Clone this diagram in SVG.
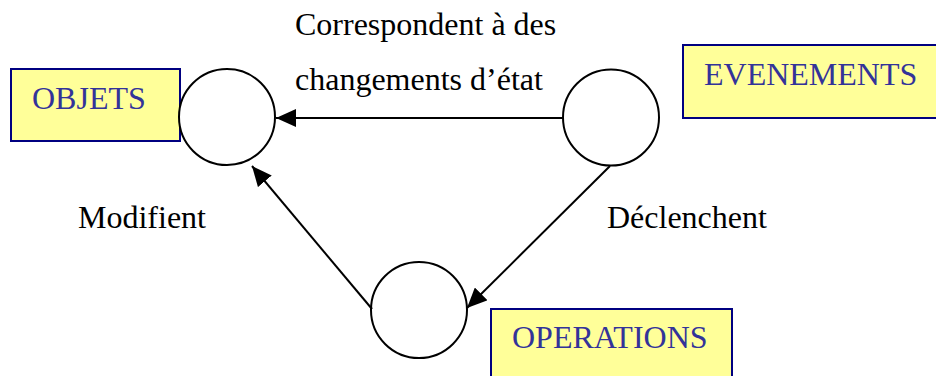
<svg xmlns="http://www.w3.org/2000/svg" width="936" height="376" viewBox="0 0 936 376">
<style>
.box{fill:#FFFF99;stroke:#000080;stroke-width:2}
.btxt{font-size:32px;fill:#333399}
.circ{fill:#FFFFFF;stroke:#000000;stroke-width:2}
.lbl{font-size:32px;fill:#000000}
.conn{stroke:#000000;stroke-width:2;fill:none;marker-end:url(#arr)}
</style>
<defs>
<marker id="arr" markerUnits="userSpaceOnUse" markerWidth="20" markerHeight="18" refX="20" refY="9" orient="auto" viewBox="0 0 20 18">
<path d="M0,0 L20,9 L0,18 z" fill="#000000"/>
</marker>
</defs>
<rect width="936" height="376" fill="#FFFFFF"/>
<g font-family="'Liberation Serif', 'DejaVu Serif', 'Times New Roman', serif">
<g id="objets">
<rect class="box" x="11" y="69" width="169" height="72"/>
<text class="btxt" x="32" y="109">OBJETS</text>
<circle class="circ" cx="227" cy="117" r="48"/>
</g>
<g id="evenements">
<rect class="box" x="683" y="45" width="262" height="73"/>
<text class="btxt" x="704" y="85">EVENEMENTS</text>
<circle class="circ" cx="611" cy="117.5" r="48"/>
</g>
<g id="operations">
<rect class="box" x="491" y="309" width="241" height="80"/>
<text class="btxt" x="512" y="348">OPERATIONS</text>
<circle class="circ" cx="419" cy="310" r="48"/>
</g>
<g id="connectors">
<line class="conn" x1="563" y1="118" x2="276" y2="118"/>
<line class="conn" x1="372" y1="309" x2="252" y2="166"/>
<line class="conn" x1="610" y1="166" x2="467" y2="308"/>
</g>
<g id="labels">
<text class="lbl" x="295" y="35">Correspondent à des</text>
<text class="lbl" x="295" y="90">changements d’état</text>
<text class="lbl" x="78" y="228">Modifient</text>
<text class="lbl" x="607" y="228">Déclenchent</text>
</g>
</g>
</svg>
